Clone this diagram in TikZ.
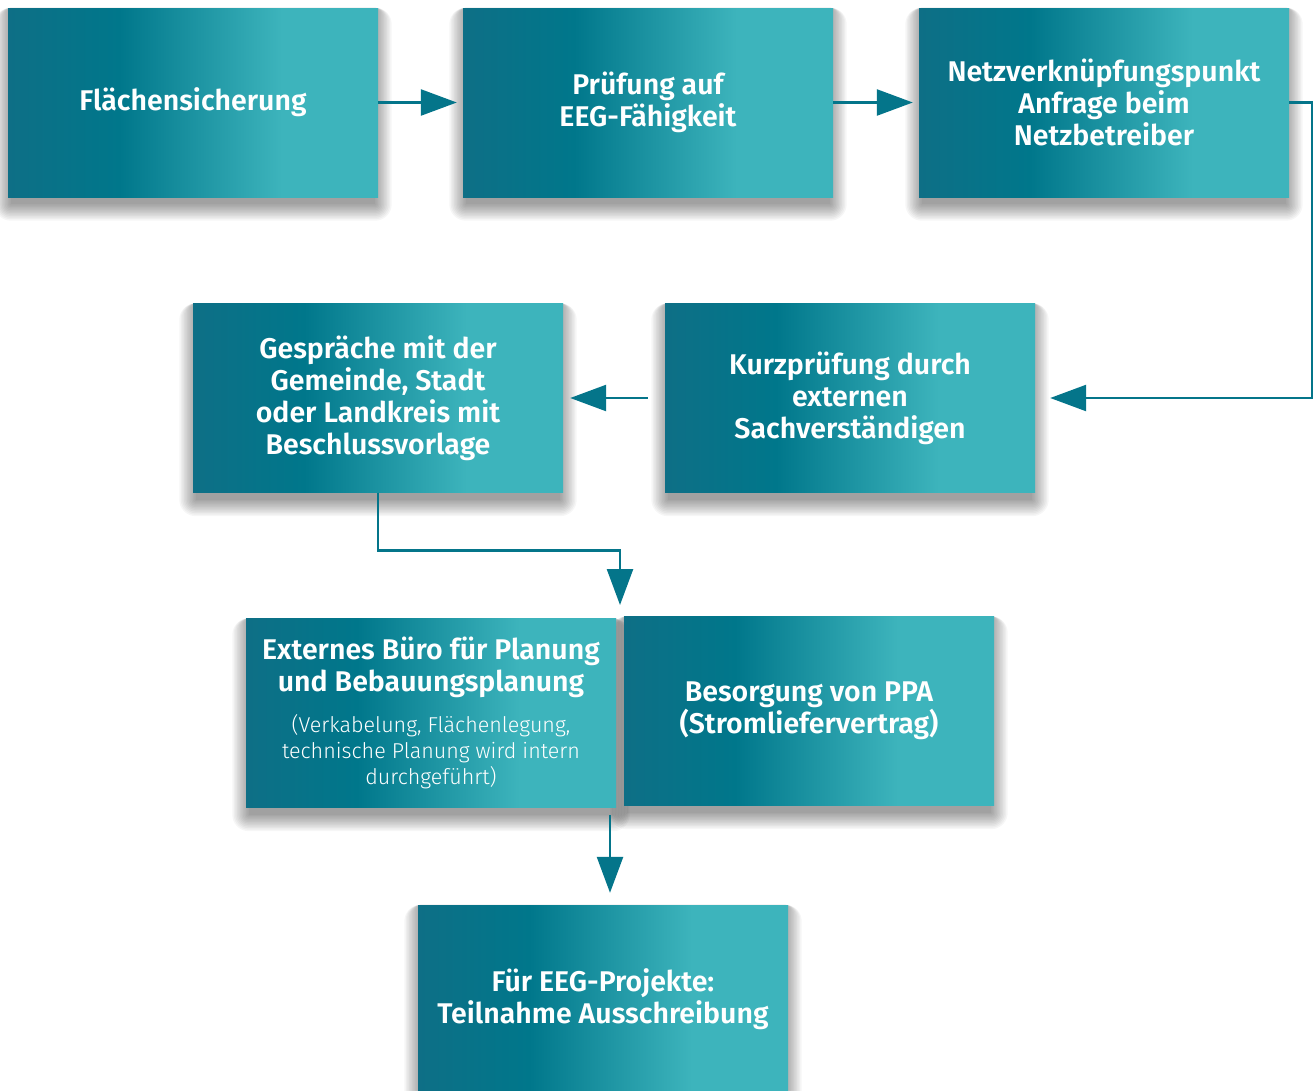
\documentclass[tikz,border=0pt]{standalone}
\usepackage{fontspec}
\setmainfont{Fira Sans}[BoldFont={Fira Sans SemiBold}]
\newfontfamily\lightfont{Fira Sans Light}
\usetikzlibrary{arrows.meta,backgrounds,calc}
\definecolor{tA}{HTML}{0E6F86}
\definecolor{tB}{HTML}{00778B}
\definecolor{tC}{HTML}{3DB4BC}
\definecolor{arrowc}{HTML}{04758A}
\pgfdeclarehorizontalshading{tealgrad}{100bp}{color(0bp)=(tA); color(25bp)=(tA); color(40bp)=(tB); color(62bp)=(tC); color(75bp)=(tC); color(100bp)=(tC)}
\newcommand{\smalltxt}{\lightfont\mdseries\fontsize{21.5}{26}\selectfont}
\newcommand{\softshadow}[1]{%
  \foreach \e in {0,1.5,...,16.5}{%
    \fill[black, opacity=0.035, rounded corners=\e pt]
      ($(#1.north west)+(-\e+3,0)$) rectangle ($(#1.south east)+(\e-3,7+\e)$);}}
\tikzset{
  box/.style={minimum width=370pt, minimum height=189pt, inner sep=0pt, shading=tealgrad,
    text=white, align=center, font=\bfseries\fontsize{28.5}{32}\selectfont},
  flow/.style={draw=arrowc, line width=2.5pt, -{Triangle[length=36pt,width=26pt,fill=arrowc]}}
}
\begin{document}
\begin{tikzpicture}[x=1pt,y=-1pt]
\useasboundingbox (0,0) rectangle (1314,1090);
\node[box] (A) at (193,102.5) {Flächensicherung};
\node[box] (B) at (648,102.5) {Prüfung auf\\EEG-Fähigkeit};
\node[box] (C) at (1104,102.5) {Netzverknüpfungspunkt\\Anfrage beim\\Netzbetreiber};
\node[box] (D) at (378,398) {Gespräche mit der\\Gemeinde, Stadt\\oder Landkreis mit\\Beschlussvorlage};
\node[box] (E) at (850,398) {Kurzprüfung durch\\externen\\Sachverständigen};
\node[box] (F) at (431,713) {Externes Büro für Planung\\und Bebauungsplanung\\[9pt]\smalltxt (Verkabelung, Flächenlegung,\\[-6pt]\smalltxt technische Planung wird intern\\[-6pt]\smalltxt durchgeführt)};
\node[box] (G) at (809,711) {Besorgung von PPA\\(Stromliefervertrag)};
\node[box] (H) at (603,999.5) {Für EEG-Projekte:\\Teilnahme Ausschreibung};
\begin{scope}[on background layer]
  \fill[white] (0,0) rectangle (1314,1090);
  \softshadow{A}\softshadow{B}\softshadow{C}\softshadow{D}
  \softshadow{E}\softshadow{F}\softshadow{G}\softshadow{H}
\end{scope}
\coordinate (fg) at (620,617);
\coordinate (fb) at (610,805);
\draw[flow, shorten >=6pt] (A.east) -- (B.west);
\draw[flow, shorten >=6pt] (B.east) -- (C.west);
\draw[flow, shorten >=15pt] (C.east) -- ++(23,0) |- (E.east);
\draw[flow, shorten <=17pt, shorten >=7pt] (E.west) -- (D.east);
\draw[flow, shorten >=12pt] (D.south) -- ++(0,58) -| (fg);
\draw[flow, shorten <=10pt, shorten >=12pt] (fb) -- (fb |- H.north);
\end{tikzpicture}
\end{document}
